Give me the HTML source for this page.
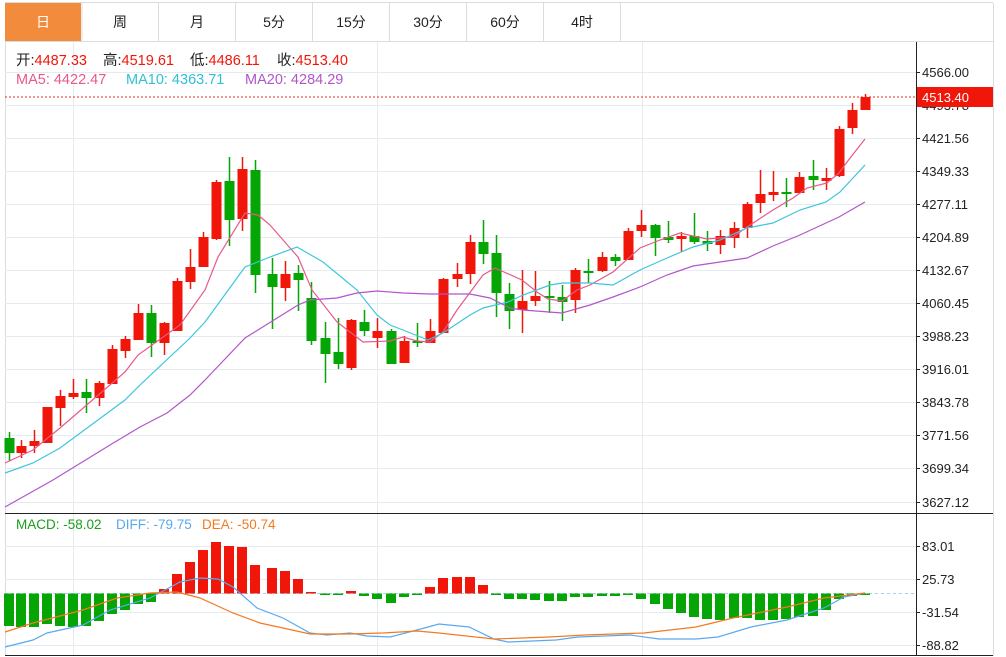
<!DOCTYPE html>
<html><head><meta charset="utf-8"><style>
html,body{margin:0;padding:0;background:#fff;width:1006px;height:657px;overflow:hidden}
svg{display:block}
text{font-family:"Liberation Sans","Noto Sans CJK SC",sans-serif}
</style></head><body>
<svg id="s" width="1006" height="657" xmlns="http://www.w3.org/2000/svg">
<rect x="0" y="0" width="1006" height="657" fill="#fff"/>
<rect x="5" y="3" width="76" height="38" fill="#f28c3c"/>
<g stroke="#d8dde3" stroke-width="1">
<line x1="5" y1="2.5" x2="993" y2="2.5"/>
<line x1="82" y1="3" x2="82" y2="41"/><line x1="158.5" y1="3" x2="158.5" y2="41"/>
<line x1="235.5" y1="3" x2="235.5" y2="41"/><line x1="312.5" y1="3" x2="312.5" y2="41"/>
<line x1="389.5" y1="3" x2="389.5" y2="41"/><line x1="466.5" y1="3" x2="466.5" y2="41"/>
<line x1="543.5" y1="3" x2="543.5" y2="41"/><line x1="620.5" y1="3" x2="620.5" y2="41"/>
<line x1="5" y1="41.5" x2="993" y2="41.5"/>
<line x1="5.5" y1="41" x2="5.5" y2="656"/><line x1="993.5" y1="3" x2="993.5" y2="656"/>
</g>
<g font-size="14" text-anchor="middle" fill="#222">
<text x="43" y="27" fill="#fff">日</text><text x="120" y="27">周</text><text x="197" y="27">月</text>
<text x="274" y="27">5分</text><text x="351" y="27">15分</text><text x="428" y="27">30分</text>
<text x="505" y="27">60分</text><text x="582" y="27">4时</text>
</g>
<g stroke="#e4ebf1" stroke-width="1" id="grid">
<line x1="73.5" y1="42" x2="73.5" y2="655"/><line x1="377.5" y1="42" x2="377.5" y2="655"/><line x1="642.5" y1="42" x2="642.5" y2="655"/>
</g>
<g id="plot"></g>
<g stroke="#222" stroke-width="1">
<line x1="916.5" y1="42" x2="916.5" y2="656"/>
<line x1="5" y1="513.5" x2="993" y2="513.5"/>
<line x1="5" y1="655.5" x2="993" y2="655.5"/>
</g>
<g font-size="13" fill="#222" id="ax">
<text x="922" y="77">4566.00</text><text x="922" y="110">4493.78</text><text x="922" y="143">4421.56</text>
<text x="922" y="176">4349.33</text><text x="922" y="209">4277.11</text><text x="922" y="242">4204.89</text>
<text x="922" y="275">4132.67</text><text x="922" y="308">4060.45</text><text x="922" y="341">3988.23</text>
<text x="922" y="374">3916.01</text><text x="922" y="407">3843.78</text><text x="922" y="440">3771.56</text>
<text x="922" y="473">3699.34</text><text x="922" y="507">3627.12</text>
<text x="922" y="551">83.01</text><text x="922" y="584">25.73</text><text x="922" y="617">-31.54</text><text x="922" y="650">-88.82</text>
</g>
<line x1="5" y1="97" x2="916" y2="97" stroke="#f0271a" stroke-width="1" stroke-dasharray="2,2"/>
<rect x="917" y="87" width="76" height="20" fill="#f0160a"/>
<text x="922" y="102" font-size="13" fill="#fff">4513.40</text>
<g font-size="14.5">
<text y="65"><tspan x="16" fill="#222">开:</tspan><tspan fill="#f0160a">4487.33</tspan><tspan x="103" fill="#222">高:</tspan><tspan fill="#f0160a">4519.61</tspan><tspan x="190" fill="#222">低:</tspan><tspan fill="#f0160a">4486.11</tspan><tspan x="277" fill="#222">收:</tspan><tspan fill="#f0160a">4513.40</tspan></text>
<text y="84"><tspan x="16" fill="#e8588a">MA5: 4422.47</tspan><tspan x="126" fill="#2fbfd9">MA10: 4363.71</tspan><tspan x="245" fill="#b156c9">MA20: 4284.29</tspan></text>
</g>
<text x="16" y="529" font-size="13.5"><tspan fill="#1a9f1a">MACD: -58.02</tspan><tspan x="116" fill="#5aa9ef">DIFF: -79.75</tspan><tspan x="202" fill="#f47a20">DEA: -50.74</tspan></text>
</svg>
<script>
var NS="http://www.w3.org/2000/svg",g=document.getElementById('grid'),p=document.getElementById('plot'),ax=document.getElementById('ax');
function el(par,t,a){var e=document.createElementNS(NS,t);for(var k in a)e.setAttribute(k,a[k]);par.appendChild(e);return e;}
[72,105,138,171,204,237,270,303,336,369,402,435,468,502,546,579,612,645].forEach(function(y){el(g,'line',{x1:5,x2:916,y1:y+.5,y2:y+.5});el(ax,'line',{x1:916,x2:920,y1:y+.5,y2:y+.5,stroke:'#222'});});
var R='#f0160a',G='#04a504';
var C=[[9,438,453,432,461,0],[21,446,453,440,458,1],[34,441,446,430,453,1],[47,407,443,407,443,1],[60,396,408,390,426,1],[73,393,397,379,399,1],[86,392,398,379,413,0],[99,383,398,381,406,1],[112,349,384,345,384,1],[125,339,351,336,358,1],[138,313,340,304,340,1],[151,313,343,305,357,0],[164,323,343,322,355,1],[177,281,331,278,331,1],[190,267,282,249,289,1],[203,237,267,232,267,1],[216,182,239,180,240,1],[229,181,220,157,246,0],[242,169,219,157,231,1],[255,170,275,160,293,0],[272,274,287,258,329,0],[285,274,288,261,301,1],[298,273,280,265,311,0],[311,298,341,282,345,0],[325,338,354,322,383,0],[338,352,364,318,369,0],[351,320,368,319,370,1],[364,322,331,310,336,0],[377,331,338,318,348,1],[391,331,364,329,364,0],[404,341,363,336,363,1],[417,341,343,323,347,0],[430,331,343,319,343,1],[443,279,333,278,333,1],[457,274,279,263,287,1],[470,242,274,235,284,1],[483,242,254,220,264,0],[496,253,293,235,317,0],[509,294,311,283,329,0],[522,301,310,270,333,1],[535,296,301,271,306,1],[549,296,298,281,313,0],[562,297,302,285,321,0],[575,270,300,268,313,1],[588,271,273,259,283,0],[602,257,271,252,272,1],[615,257,261,254,266,0],[628,231,260,228,260,1],[641,225,231,210,237,1],[655,225,238,224,256,0],[668,237,240,221,243,0],[681,236,239,232,252,1],[694,236,242,213,244,0],[707,241,244,231,251,0],[720,236,245,230,254,1],[734,228,238,222,248,1],[747,204,228,202,238,1],[760,194,203,170,213,1],[773,192,195,171,201,1],[786,192,194,178,207,0],[799,177,193,172,194,1],[813,176,180,160,190,0],[826,178,181,168,190,1],[839,129,176,126,177,1],[852,110,128,103,134,1],[865,97,110,94,110,1]];
C.forEach(function(c){var col=c[5]?R:G;el(p,'line',{x1:c[0]+.5,x2:c[0]+.5,y1:c[3],y2:c[4],stroke:col,'stroke-width':1.5});var h=Math.max(c[2]-c[1],2);el(p,'rect',{x:c[0]-4.5,y:c[1],width:10,height:h,fill:col});});
function line(pts,col){el(p,'polyline',{points:pts.map(function(a){return a.join(',')}).join(' '),fill:'none',stroke:col,'stroke-width':1.2});}
line([[5,463],[33,450],[60,428],[125,372],[138,355],[180,325],[205,290],[218,257],[245,213],[258,215],[270,225],[290,248],[298,257],[312,290],[337,322],[363,342],[390,341],[403,337],[417,341],[430,342],[443,332],[457,310],[483,275],[495,268],[522,280],[537,292],[548,299],[562,301],[577,290],[590,285],[613,272],[640,248],[660,240],[680,233],[693,236],[707,239],[720,238],[733,237],[747,227],[773,210],[793,198],[807,188],[827,183],[839,173],[847,162],[865,139]],'#e8588a');
line([[5,473],[33,463],[60,448],[125,400],[140,385],[190,338],[205,322],[245,267],[270,257],[297,247],[323,262],[357,290],[377,315],[390,325],[403,330],[428,340],[443,333],[470,315],[483,308],[508,302],[523,295],[550,285],[563,283],[590,283],[613,285],[640,270],[667,258],[693,247],[720,240],[747,228],[773,223],[800,210],[826,202],[840,192],[865,165]],'#3fc5dd');
line([[5,507],[53,480],[110,445],[140,427],[167,413],[190,395],[205,380],[245,338],[290,310],[298,305],[310,300],[337,298],[357,293],[377,291],[403,293],[430,294],[470,294],[490,298],[510,308],[523,310],[562,313],[590,305],[613,297],[640,287],[667,275],[693,266],[720,262],[747,258],[773,246],[800,235],[826,223],[839,217],[865,202]],'#b156c9');
el(p,'line',{x1:5,x2:916,y1:593.5,y2:593.5,stroke:'#9fd3ef','stroke-dasharray':'3,3'});
var M=[626,627,627,624,626,627,626,621,614,610,604,602,589,574,562,550,542,546,547,565,568,571,579,592,594,594,591,596,599,603,597,594,587,578,577,577,585,594,599,599,600,601,601,597,597,596,596,595,599,604,609,613,617,619,620,618,618,620,620,619,617,616,610,599,596,594];
M.forEach(function(y,i){var x=C[i][0],z=593.5;var col=y<z?R:G;var t=Math.min(y,z),h=Math.max(Math.abs(y-z),1.5);el(p,'rect',{x:x-5,y:t,width:10,height:h,fill:col});});
line([[5,647],[33,640],[47,633],[83,625],[110,610],[150,598],[180,582],[200,578],[218,579],[233,587],[257,608],[283,618],[310,633],[327,635],[350,633],[367,636],[390,637],[417,630],[439,624],[469,627],[494,639],[508,642],[556,640],[578,637],[630,635],[659,639],[696,639],[718,637],[751,627],[787,620],[824,608],[844,597],[865,593]],'#5aa9ef');
line([[5,632],[33,623],[83,610],[117,598],[150,593],[177,592],[200,598],[233,613],[260,623],[283,628],[310,634],[350,634],[383,633],[417,631],[439,633],[494,639],[549,637],[585,635],[644,633],[696,627],[733,618],[787,607],[824,598],[865,593]],'#f47a20');
</script>
</body></html>
